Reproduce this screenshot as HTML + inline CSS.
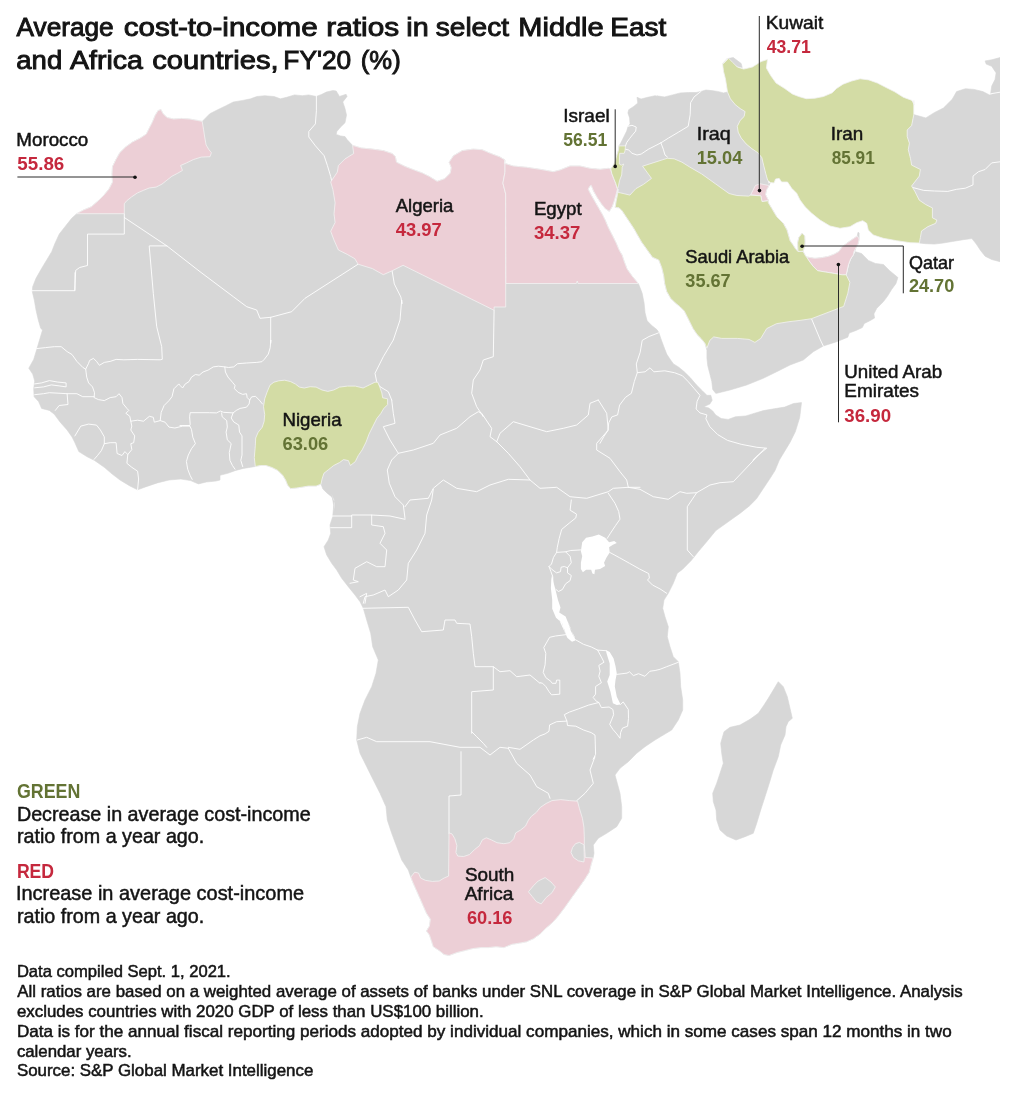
<!DOCTYPE html>
<html><head><meta charset="utf-8"><title>Average cost-to-income ratios</title>
<style>
html,body{margin:0;padding:0;background:#fff;}
body{width:1020px;height:1094px;overflow:hidden;font-family:"Liberation Sans",sans-serif;}
svg{display:block;position:absolute;left:0;top:0;will-change:transform;}
svg text{font-family:"Liberation Sans",sans-serif;}
</style></head><body>
<svg width="1020" height="1094" viewBox="0 0 1020 1094">
<defs><clipPath id="mapclip"><rect x="0" y="50" width="1000" height="930"/></clipPath></defs>
<g clip-path="url(#mapclip)">
<path d="M316.4,96.4 L321.9,94.3 L326.3,92.1 L332.9,90.5 L336.2,91 L339.5,96.4 L346.1,94.3 L347.1,96.4 L342.8,101.9 L345,108.5 L346.5,115.1 L345,122.8 L340.6,127.1 L336.8,131.5 L336.2,134.4 L340.6,135.9 L345,136.6 L347.1,139.6 L352.6,145.4 L361.4,148 L372.4,149.1 L383.3,150.6 L392.1,153.5 L395.4,156.8 L396.5,162.2 L405.3,166.6 L414,169.9 L422.8,173.2 L429.4,176.5 L437.1,181.3 L444.7,178.7 L450.2,173.2 L451.3,167.7 L449.1,162.2 L453.5,155.7 L462.3,150.6 L473.2,149.1 L482,149.7 L490.8,153.5 L499.6,156.8 L505,160 L504.3,163.3 L513.3,166 L526.7,167.3 L540,169.3 L553.3,171.7 L560,170 L570,166 L580,166 L590,168.3 L600,169.3 L608.3,168.3 L610.8,169.1 L611.8,173.5 L613.7,178.4 L615.7,183.3 L617.2,188.2 L617.4,189.2 L616.2,194.1 L614.2,201 L612.3,206.4 L609.3,211.3 L605.4,208.8 L601.5,203.9 L597.5,198 L593.6,191.2 L591.2,185.3 L589.7,186.3 L588.2,189.2 L590.7,194.1 L594.6,201 L598.5,207.8 L602.5,214.7 L605.4,220.6 L608.3,227.5 L612.3,235.3 L616.2,243.1 L619.1,250 L622.2,255.3 L624.1,261.2 L627.1,269 L632,275.9 L638.3,283.5 L639.2,285.5 L642.2,293.3 L644.1,303.1 L645.1,312.9 L647.1,320.8 L652,325.7 L656.9,329.6 L658.8,332.5 L660.8,338.4 L663.7,346.3 L666.7,354.1 L670.6,360 L673.5,363.9 L678.4,366.9 L684.3,371.8 L690.2,377.6 L696.1,384.5 L702,390.4 L706.9,395.3 L710.8,395.3 L712.2,400.2 L709.8,404.1 L703.9,406.7 L708.8,408 L712.7,411 L715.7,414.9 L721.2,418.5 L728.2,419.4 L735.3,416.8 L745.9,415.9 L754.7,413.2 L763.5,410.6 L774.1,408.8 L784.7,407.1 L793.5,403.5 L801.5,402.6 L799.7,417.6 L795.3,431.8 L790,442.4 L784.7,451.2 L779.4,460 L775,470.6 L770.6,477.6 L763.5,488.2 L756.5,498.8 L749.4,505.9 L740.6,512.9 L728.2,521.8 L715.9,530.6 L707.1,541.2 L698.2,551.8 L691.2,560.6 L682.4,569.4 L677.3,573.3 L673.3,583.3 L668.3,593.3 L664,600 L662.7,608.3 L665,616.7 L668.3,626.7 L667.3,636.7 L670,646.7 L673.3,656.7 L678.3,661.7 L680,673.3 L680.7,686.7 L682.7,700 L682.7,710 L678.3,720 L671.7,730 L663.3,735 L655,740 L645,746.7 L636.7,753.3 L628.3,761.7 L620,768.3 L615,775 L617.3,783.3 L620,793.3 L621.7,806.7 L621.7,818.3 L616.7,826.7 L606.7,833.3 L598.3,838.3 L593.3,845 L594,853.3 L593.1,858 L591.2,864.3 L589.2,872.2 L584.3,880 L579.4,886.9 L574.5,893.7 L569.6,900.6 L564.7,907.5 L558.8,915.3 L552.9,922.2 L546.1,928 L540.2,933.9 L533.3,938.8 L526.5,941.8 L519.6,943.1 L511.8,944.3 L503.9,947.6 L496.1,946.7 L488.2,947.6 L480.4,947.6 L472.5,948.6 L464.7,950.6 L456.9,952.5 L449,955.5 L444.1,954.5 L439.2,950.6 L433.3,946.7 L431.4,940.8 L429.4,934.9 L426.5,931 L429.4,926.1 L430.4,919.2 L426.5,913.3 L423.5,906.5 L419.6,897.6 L415.7,888.8 L412.7,882 L410.8,877.1 L408.3,870 L401.7,860 L396.7,846.7 L391.7,833.3 L387.3,820 L386,806.7 L380,793.3 L373.3,780 L366.7,766.7 L360,753.3 L356.7,740 L357.3,726.7 L360,713.3 L365,700 L371.7,686.7 L376,673.3 L378.3,660 L372.7,646.7 L370.7,633.3 L366.7,620 L363.3,608.3 L360,601.7 L355,595 L348.3,586.7 L341.7,578.3 L336.7,570 L331.7,563.3 L326.7,555 L324,546.7 L328.3,540 L330.7,533.3 L330,525 L332.7,516.7 L333.3,510 L334.3,500 L331.7,494.3 L334.7,510.6 L334.7,502.7 L331.8,496.9 L326.9,492.9 L322.9,489 L321,484.1 L316.1,486.1 L308.2,486.1 L302.4,487.1 L296.5,488 L290.6,488.6 L287.6,485.1 L285.7,480.2 L282.7,475.3 L277.8,470.4 L272,467.5 L266.1,465.5 L260.2,465.5 L255.3,466.5 L243.5,468.4 L235.7,470.4 L227.8,473.3 L220,475.3 L220,480 L216.1,481 L206.3,482 L198.4,483.9 L190.6,480.6 L180.8,479 L169,480 L157.3,482.9 L145.5,486.9 L137.6,489.8 L129.8,485.9 L120,480 L112.2,474.1 L104.3,467.3 L94.5,460.4 L86.7,456.5 L78.8,451.6 L74.9,442.7 L72,436.9 L67.1,430 L60.2,422.2 L54.3,414.3 L49.4,410.4 L41.6,408.4 L38.6,401.6 L34.1,396.7 L33.7,388.8 L34.7,381 L32.7,374.1 L28.8,368.2 L33.7,359.4 L36.7,349.6 L39.6,339.8 L42.5,330 L40.7,328.3 L38.3,320 L36,310 L34.3,300 L32.3,291.7 L32.7,286.7 L36,278.3 L41.7,268.3 L46.7,260 L51.7,251.7 L55,243.3 L59.3,234 L65,226.7 L71.7,218.3 L76.7,213.7 L83.5,210 L91.4,206.7 L98.2,200.8 L104.1,194.9 L109,189 L112.5,182.2 L112,174.3 L112.5,166.5 L115.9,159.6 L119.8,152.7 L125.7,146.9 L132.5,142 L140.4,138 L146.3,134.1 L149.2,128.2 L152.2,122.4 L155.1,115.5 L158,110.6 L161,109.6 L162.9,113.5 L166.9,117.5 L173.7,119 L181.6,118.4 L189.4,119 L197.3,120.4 L202.2,121.4 L209.8,113.7 L217.6,109.8 L225.5,105.9 L233.3,102 L242.7,100.4 L250.6,98.8 L256.9,96.5 L264.7,95.7 L274.1,96.5 L280.4,98.8 L286.7,97.3 L294.5,94.9 L302.4,95.7 L308.6,94.9 L316.5,96.5Z" fill="#d7d7d7" stroke="#d7d7d7" stroke-width="0.6" stroke-linejoin="round"/>
<path d="M610.6,169 L612.7,166.5 L614.8,162.4 L616,158.3 L617.2,154.1 L618.5,150 L618.9,145.9 L620.5,143.4 L622.6,139.3 L624.6,135.2 L626.7,131.1 L627.9,127 L630,123.7 L629.6,117.9 L627.9,113 L628.7,109.7 L633.7,106.4 L637.8,103.1 L637,97.3 L641.1,99 L647.7,97.3 L655.1,95.7 L660.8,97.3 L656.9,95.9 L664.7,96.9 L672.5,94.9 L680.4,92.9 L688.2,92.5 L696.1,92.5 L701,91.4 L705.9,90 L711.8,90.6 L717.6,91.4 L723.5,92.9 L727.5,92 L730.4,98.8 L735.3,104.7 L740.2,108.6 L745.1,111.6 L744.1,116.5 L740.2,120.4 L737.3,126.3 L738.2,132.2 L741.2,138 L746.1,143.9 L752,148.8 L757.8,152.7 L761.8,157.6 L763.7,165.5 L765.7,173.3 L767.6,180.2 L768.6,184.1 L770.3,182.6 L769.1,185.5 L766.7,189.7 L765.5,194.5 L768.5,200.4 L768.3,202.7 L771.7,208.3 L776.7,216.7 L783.3,223.3 L787,230 L790,240.6 L792.9,244.7 L795.9,249.4 L798,251.3 L798,251.3 L797.9,247.6 L797.6,242.9 L798.8,237.6 L802.1,233.2 L804.7,235.9 L805,241.8 L804.7,246.5 L803,251.3 L803,251.3 L805.9,256.5 L806.7,257 L814.9,258.3 L821.8,257.6 L828.6,256.3 L834.1,254.2 L838.9,251.5 L842.3,246.7 L847.8,242.5 L854.7,237.7 L857.4,236 L857.2,236 L858,232.3 L859.1,232.9 L859.1,239.1 L858.1,243.9 L856.1,247.4 L854.7,251.5 L861.6,253.5 L868.4,260.4 L875.3,263.4 L883.5,264.5 L889.7,270.7 L897.9,277.5 L895.9,283.7 L891.8,289.2 L887.6,296.1 L883.5,301.6 L876.7,308.4 L873.9,313.9 L874.6,318 L869.8,320.8 L864.3,323.5 L862.3,327.6 L856.1,330.4 L849.2,333.1 L847.8,337.2 L836.7,341.7 L823.3,346 L813.3,351.7 L803.3,360 L790,365 L776.7,371.7 L763.3,378.3 L746.7,385 L730,390 L716.7,393.3 L715.7,393.3 L712.7,389.4 L711.8,381.6 L709.8,373.7 L707.8,365.9 L706.9,358 L706.9,350.2 L704.9,343.3 L701,338.4 L697.1,334.5 L693.1,328.6 L690.2,322.7 L687.3,316.9 L684.3,311 L680.4,307.1 L675.5,303.1 L670.6,298.2 L666.7,291.4 L664.7,283.5 L663.7,275.7 L661.8,267.8 L658.8,260 L652.5,257.3 L647.6,250.4 L641.7,242.2 L637.7,235.3 L633.8,228.4 L629.9,222.5 L626,216.7 L622.1,210.8 L619.1,207.8 L615.2,207.4 L616.2,201 L617.6,194.1 L618.1,189.2 L617.2,188.2 L615.7,183.3 L613.7,178.4 L611.8,173.5 L610.8,169.1Z" fill="#d7d7d7" stroke="#d7d7d7" stroke-width="0.6" stroke-linejoin="round"/>
<path d="M913.8,114.6 L925.8,117.9 L934.6,112.4 L943.4,108 L952.2,99.3 L956.6,91.6 L965.4,88.7 L974.1,89.4 L982.9,91.6 L989.5,94.9 L1000,91.6 L1000,261.7 L991.7,259.5 L985.1,256.2 L980.7,250.7 L976.3,244.1 L971.9,238.6 L963.2,239.7 L952.2,241.5 L943.4,243 L934.6,244.1 L925.8,243.7 L919.3,243 L920.4,237.5 L921.5,231 L928,226.6 L935.7,223.3 L936.8,220 L932.4,217.8 L932.4,207.9 L925.8,204.6 L919.3,200.2 L914.9,191.4 L911.6,186 L919.3,176.1 L920.4,169.5 L911.6,165.1 L910.5,158.5 L908.3,149.7 L909.4,143.2 L907.2,136.6 L907.2,130 L911.6,125.6Z" fill="#d7d7d7" stroke="#d7d7d7" stroke-width="0.6" stroke-linejoin="round"/>
<path d="M985.1,60.9 L991.7,59.8 L1000,57.6 L1000,92.7 L990.6,93.8 L991.7,86.1 L995,79.5 L996.1,72.9 L991.7,66.3 L986.2,64.1Z" fill="#d7d7d7" stroke="#d7d7d7" stroke-width="0.6" stroke-linejoin="round"/>
<path d="M727.5,58.6 L733.3,57.6 L737.3,60.6 L741.2,63.5 L742.2,67.5 L737.3,66.5 L731.4,62.5Z" fill="#d7d7d7" stroke="#d7d7d7" stroke-width="0.6" stroke-linejoin="round"/>
<path d="M778.3,681.7 L783.3,686.7 L787.3,696.7 L790,708.3 L792.3,718.3 L788.3,721.7 L786,726.7 L785,735 L780.7,745 L778.3,756.7 L773.3,770 L769.3,783.3 L765,796.7 L760.7,810 L756.7,823.3 L753.3,833.3 L745,836.7 L736,840 L726.7,836 L720,830 L716.7,820 L716,810 L713.3,801.7 L712.7,793.3 L716.7,783.3 L720,773.3 L723.3,763.3 L721.7,753.3 L720.7,743.3 L724,731.7 L730,727.3 L740,725 L750,719.3 L758.3,713.3 L764,705 L768.3,698.3 L773.3,690 L777.3,683.3Z" fill="#d7d7d7" stroke="#d7d7d7" stroke-width="0.6" stroke-linejoin="round"/>
<g id="borders">
<path d="M124.3,213.7 L124.3,234.1 L87.5,234.1 L87.5,265.5 L79.6,267.5 L75.7,270.4 L74.7,290" fill="none" stroke="#fff" stroke-width="0.9" stroke-linejoin="round" stroke-linecap="round"/>
<path d="M75,272.7 L75,290.7 L32.3,290.7" fill="none" stroke="#fff" stroke-width="0.9" stroke-linejoin="round" stroke-linecap="round"/>
<path d="M124.3,217.5 L166.9,245.9 L200,271.7 L233.3,296.7 L246.7,306.7 L256.7,310 L260,318.3 L270.7,317.3 L291.7,311.7 L305,298.3 L358.1,264.2" fill="none" stroke="#fff" stroke-width="0.9" stroke-linejoin="round" stroke-linecap="round"/>
<path d="M316.4,96.4 L316.4,110.7 L315.4,123.9 L308.8,131.5 L308.8,137 L315.4,145.8 L324.1,155.7 L327.4,165.5 L330.7,176.5 L331.8,181.3" fill="none" stroke="#fff" stroke-width="0.9" stroke-linejoin="round" stroke-linecap="round"/>
<path d="M391.7,400 L393.3,413.3 L395,423.3 L383.3,426.7 L390,440 L398.3,453.3 L391.7,460 L387.3,470 L389.3,483.3 L395,496.7 L403.3,505 L405,518.3" fill="none" stroke="#fff" stroke-width="0.9" stroke-linejoin="round" stroke-linecap="round"/>
<path d="M405,519.3 L390,516 L371.7,515 L351.7,515 L351.7,527.7 L330.7,527.7" fill="none" stroke="#fff" stroke-width="0.9" stroke-linejoin="round" stroke-linecap="round"/>
<path d="M331.7,516 L351.7,516" fill="none" stroke="#fff" stroke-width="0.9" stroke-linejoin="round" stroke-linecap="round"/>
<path d="M398.3,453.3 L413.3,450 L433.3,443.3 L440,435 L456.7,428.3 L470,416.7 L478.3,411.7 L481.7,413.3 L491.7,428.3 L490,436.7 L496.7,441.7" fill="none" stroke="#fff" stroke-width="0.9" stroke-linejoin="round" stroke-linecap="round"/>
<path d="M405,506.7 L410,500 L428.3,498.3 L433.3,488.3 L443.3,480 L456.7,488.3 L476.7,491.7 L490,485 L508.3,479.3 L530,480 L520,466.7 L508.3,453.3 L496.7,441.7" fill="none" stroke="#fff" stroke-width="0.9" stroke-linejoin="round" stroke-linecap="round"/>
<path d="M530,480 L540,488.3 L556.7,487.3 L570,496.7 L586.7,498.3 L608.3,491.7 L613.3,488.3 L628.3,487.3 L640,487.3" fill="none" stroke="#fff" stroke-width="0.9" stroke-linejoin="round" stroke-linecap="round"/>
<path d="M496.7,441.7 L500,433.3 L513.3,421.7 L530,426.7 L546.7,431.7 L563.3,428.3 L576.7,425 L588.3,415 L590,403.3 L598.3,400" fill="none" stroke="#fff" stroke-width="0.9" stroke-linejoin="round" stroke-linecap="round"/>
<path d="M598.3,400 L606.7,413.3 L608.3,430 L596.7,443.3 L596.7,450 L610,458.3 L620,471.7 L626.7,480 L628.3,487.3" fill="none" stroke="#fff" stroke-width="0.9" stroke-linejoin="round" stroke-linecap="round"/>
<path d="M433.3,489.3 L431.7,500 L426.7,515 L425,533.3 L416.7,550 L408.3,563.3 L406.7,580 L398.3,590 L388.3,596.7 L385,590 L373.3,595 L365,596.7 L363.3,603.3" fill="none" stroke="#fff" stroke-width="0.9" stroke-linejoin="round" stroke-linecap="round"/>
<path d="M371.7,515 L371.7,525 L383.3,526.7 L385,533.3 L380,543.3 L386.7,550 L385,566.7 L376.7,566.7 L366.7,561.7 L355,568.3 L353.3,580 L358.3,581.7 L350,583.3" fill="none" stroke="#fff" stroke-width="0.9" stroke-linejoin="round" stroke-linecap="round"/>
<path d="M360,596.7 L366.7,593.3 L365,603.3" fill="none" stroke="#fff" stroke-width="0.9" stroke-linejoin="round" stroke-linecap="round"/>
<path d="M363.3,608.3 L408.3,607.3 L415,620 L421.7,631.7 L443.3,630 L445,620 L455,620 L456.7,623.3 L470,624 L471.7,636.7 L473.3,653.3 L475,666.7 L493.3,666.7 L493.3,690 L471.7,691.7 L471.7,733.3" fill="none" stroke="#fff" stroke-width="0.9" stroke-linejoin="round" stroke-linecap="round"/>
<path d="M628.3,487.3 L640,489.3 L653.3,496.7 L668.3,499.3 L680,491.7 L686.7,493.3 L696.7,492.7 L710,485 L720,482.7 L733.3,481.7 L765,448.3" fill="none" stroke="#fff" stroke-width="0.9" stroke-linejoin="round" stroke-linecap="round"/>
<path d="M696.7,492.7 L687.3,506.7 L687.3,550 L693.3,556.7" fill="none" stroke="#fff" stroke-width="0.9" stroke-linejoin="round" stroke-linecap="round"/>
<path d="M357.3,740 L366.7,737.3 L376.7,741.7 L430,741.7 L460,747.3 L480,747.3 L490,755 L500,747.3 L508.3,748.3" fill="none" stroke="#fff" stroke-width="0.9" stroke-linejoin="round" stroke-linecap="round"/>
<path d="M471.7,731.7 L476.7,736.7 L483.3,743.3 L486.7,747.3" fill="none" stroke="#fff" stroke-width="0.9" stroke-linejoin="round" stroke-linecap="round"/>
<path d="M461,751.7 L461,795 L449,796 L449,833.3" fill="none" stroke="#fff" stroke-width="0.9" stroke-linejoin="round" stroke-linecap="round"/>
<path d="M508.3,748.3 L516.7,763.3 L530,775 L536.7,786.7 L548.3,793.3 L550,798.3" fill="none" stroke="#fff" stroke-width="0.9" stroke-linejoin="round" stroke-linecap="round"/>
<path d="M392.1,270.8 L394.3,283.9 L400.9,297.1 L402,303.7 L401.7,300 L400,320 L393.3,340 L383.3,356.7 L375,373.3 L376.7,381.7 L380,386.7 L388.3,391.7 L391.7,400" fill="none" stroke="#fff" stroke-width="0.9" stroke-linejoin="round" stroke-linecap="round"/>
<path d="M494.1,310.3 L493.3,356.7 L483.3,360 L480,370 L473.3,380 L471.7,393.3 L476.7,406.7 L483.3,416.7" fill="none" stroke="#fff" stroke-width="0.9" stroke-linejoin="round" stroke-linecap="round"/>
<path d="M658.4,332.9 L649,336.5 L642.2,340.4 L640.2,352.2 L636.3,363.9 L637.3,372.7 L645.1,371.8 L650,367.8 L653.9,371.8 L664.7,370.8 L674.5,372.7 L682.4,375.7 L688.2,381.6 L694.1,388.4 L700,395.3 L697.1,401.2 L696.1,409 L700,412.9 L706.9,414.9 L705.9,418.8 L709.8,426.7 L717.6,434.5 L727.5,440.4 L741.2,444.3 L756.9,447.3 L766.7,448.2 L756.9,456.1 L752.9,460" fill="none" stroke="#fff" stroke-width="0.9" stroke-linejoin="round" stroke-linecap="round"/>
<path d="M637.3,372.7 L634.3,381.6 L631.4,393.3 L625.5,397.3 L619.6,405.1 L617.6,414.9 L611.8,416.9 L608.8,422.7 L607.8,430.6 L603.9,436.5 L600,443.3" fill="none" stroke="#fff" stroke-width="0.9" stroke-linejoin="round" stroke-linecap="round"/>
<path d="M701,91.4 L694.1,96.9 L690.6,102.7 L690.2,114.5 L688.2,126.3 L678.4,132.2 L668.6,138 L660.8,142.9 L648.5,149.2 L641.1,154.1 L637,155 L632,153.3 L628.7,150 L625.5,149.2" fill="none" stroke="#fff" stroke-width="0.9" stroke-linejoin="round" stroke-linecap="round"/>
<path d="M660.8,142.6 L663.3,149.2 L665,155 L667.4,157" fill="none" stroke="#fff" stroke-width="0.9" stroke-linejoin="round" stroke-linecap="round"/>
<path d="M628.3,126.2 L632,125.3 L636.2,127 L635.7,131.1 L632.9,134.4 L629.6,138.5 L626.7,142.6 L625.5,145.9" fill="none" stroke="#fff" stroke-width="0.9" stroke-linejoin="round" stroke-linecap="round"/>
<path d="M811.5,318.7 L820.4,340 L823.3,346" fill="none" stroke="#fff" stroke-width="0.9" stroke-linejoin="round" stroke-linecap="round"/>
<path d="M846.2,274.8 L848.5,264.5 L850.6,259 L853.3,254.9 L854.7,251.5" fill="none" stroke="#fff" stroke-width="0.9" stroke-linejoin="round" stroke-linecap="round"/>
<path d="M1000,161.8 L991.7,162.9 L985.1,169.5 L978.5,171.7 L973,176.1 L973,184.9 L965.4,188.2 L956.6,189.3 L947.8,191.4 L934.6,191 L923.7,190.4 L912.7,187.5" fill="none" stroke="#fff" stroke-width="0.9" stroke-linejoin="round" stroke-linecap="round"/>
<path d="M990.6,93.8 L1000,92.2" fill="none" stroke="#fff" stroke-width="0.9" stroke-linejoin="round" stroke-linecap="round"/>
<path d="M493.3,666.7 L500,671.7 L510,670.7 L516.7,676.7 L530,675 L540,683.3 L540,682.7 L542.6,683.3 L545.8,686.5 L549,691.6 L551.5,694.8 L559.8,694.2 L559.8,680.1 L556.6,680.1 L556,683.3 L552.2,683.3 L550.9,681.4 L545.8,677.6 L543.2,672.4 L545.1,664.8 L545.8,653.3 L543.8,647.5 L549.6,637.3 L555.4,636 L565.6,634.7" fill="none" stroke="#fff" stroke-width="0.9" stroke-linejoin="round" stroke-linecap="round"/>
<path d="M574.5,639.2 L583.5,644.3 L591.2,646.9 L597.6,650.1 L605.9,650.7" fill="none" stroke="#fff" stroke-width="0.9" stroke-linejoin="round" stroke-linecap="round"/>
<path d="M597.6,650.1 L601.4,657.1 L604,662.2 L598.8,665.4 L600.1,671.2 L598.8,676.3 L601.4,682.7 L595.6,686.5 L595.6,694.2 L593.1,697.4 L596.3,701.2 L598.8,702.5 L601.4,707.6 L609.1,707 L612.9,709.5 L613.6,714.7 L611.6,719.8 L609.7,724.3 L612.9,729.4 L616.8,733.9 L620,738.3 L620.6,732.6 L622.5,728.1 L627.6,726.2 L628.5,718.5 L628.3,709.5 L623.2,701.9 L620.6,704.4" fill="none" stroke="#fff" stroke-width="0.9" stroke-linejoin="round" stroke-linecap="round"/>
<path d="M508.3,747.3 L520,749.3 L533.3,740 L540,735.8 L545.1,733.9 L549,731.3 L549.6,724.9 L556.6,721.7 L566.9,721.1 L564.3,714.7 L569.4,712.1 L578.4,708.9 L588.6,705.1 L598.8,702.5" fill="none" stroke="#fff" stroke-width="0.9" stroke-linejoin="round" stroke-linecap="round"/>
<path d="M566.9,721.1 L567.5,725.5 L575.8,726.2 L583.5,730 L591.2,732.6 L595,735.1 L595.6,754.3 L593.1,759.4 L595,756.7 L590,770 L593.3,783.3 L585,793.3 L576.7,800.7" fill="none" stroke="#fff" stroke-width="0.9" stroke-linejoin="round" stroke-linecap="round"/>
<path d="M616.8,674.4 L627,673.1 L629.5,671.8 L633.4,675.6 L638.5,673.7 L644.9,676.3 L650,671.2 L655.1,670.5 L660,669.3 L666.7,666.7 L678.3,662.3" fill="none" stroke="#fff" stroke-width="0.9" stroke-linejoin="round" stroke-linecap="round"/>
<path d="M571.3,500 L570.1,510.2 L576.5,514.1 L575.8,517.9 L569.4,523 L561.7,529.4 L559.2,538.4 L557.3,547.3 L556.6,552.4 L553.4,557.6 L551.5,564 L549,566.5 L550.9,571.6 L552.8,576.8 L552.8,584.4" fill="none" stroke="#fff" stroke-width="0.9" stroke-linejoin="round" stroke-linecap="round"/>
<path d="M608.3,493.3 L615,503.3 L618.7,511.5 L620,519.2 L615.5,525.6 L610.4,533.3 L607.2,538.4" fill="none" stroke="#fff" stroke-width="0.9" stroke-linejoin="round" stroke-linecap="round"/>
<path d="M556.6,552.4 L565.6,551.8 L570.7,550.5 L580.9,549.9" fill="none" stroke="#fff" stroke-width="0.9" stroke-linejoin="round" stroke-linecap="round"/>
<path d="M565.6,551.8 L570.1,556.3 L571.3,562.7 L567.5,567.8 L567.5,572.9 L571.3,575.5 L570.1,580.6 L565.6,583.8 L562.4,589.5 L558.5,591.5 L556,589.5" fill="none" stroke="#fff" stroke-width="0.9" stroke-linejoin="round" stroke-linecap="round"/>
<path d="M549,566.5 L552.2,569.7 L556.6,572.9 L560.5,571.6 L561.1,567.2 L564.3,566.5 L567.5,567.8" fill="none" stroke="#fff" stroke-width="0.9" stroke-linejoin="round" stroke-linecap="round"/>
<path d="M609.7,552.4 L619.3,557.6 L629.5,563.3 L639.8,569.1 L648.7,573.6 L649.4,578 L647.5,580 L652.6,585.1 L660,588.9 L666.7,593.3" fill="none" stroke="#fff" stroke-width="0.9" stroke-linejoin="round" stroke-linecap="round"/>
<path d="M166.9,245.9 L149.2,245.9 L153.3,293.3 L156.7,326.7 L161.7,346.7 L162.3,359.3 L160.2,359.8 L137.6,359.4 L123.9,359.8 L116.1,359.4 L110.2,361.4 L104.3,362.4 L99.4,365.3 L96.5,361.4 L93.5,358.4 L89.6,360.4 L88.6,363.3 L85.7,369.2 L82.7,367.3 L76.9,361.4 L72,354.5 L67.1,351.6 L61.2,346.7 L54.3,346.7 L45.5,347.6 L36.7,348.6" fill="none" stroke="#fff" stroke-width="0.9" stroke-linejoin="round" stroke-linecap="round"/>
<path d="M85.7,369.2 L86.7,377.1 L88.6,382.9 L92.5,386.9 L94.5,392.7 L94.1,397.6 L98.4,399.6 L104.3,400.6 L110.2,397.6 L116.1,396.7 L119,393.7 L122,397.6 L122.9,403.5 L126.9,408.4 L128.8,410.4 L125.9,413.3 L129.8,416.3 L130.8,421.2 L137.6,420.2 L143.5,421.2 L149.4,416.3 L153.3,417.3 L154.3,422.2 L160.2,420.6 L165.1,422.2 L169,427.1 L174.9,428 L182.7,426.1 L189.6,426.1" fill="none" stroke="#fff" stroke-width="0.9" stroke-linejoin="round" stroke-linecap="round"/>
<path d="M34.7,383.9 L41.6,382.9 L49.4,380.6 L57.3,382 L66.1,382.9 L66.1,386.9 L59.2,385.9 L51.4,384.9 L43.5,386.9 L34.7,387.8" fill="none" stroke="#fff" stroke-width="0.9" stroke-linejoin="round" stroke-linecap="round"/>
<path d="M34.7,394.7 L43.5,393.7 L49.4,392.7 L67.1,393.7 L76.9,393.7 L82.7,396.7 L94.1,396.7" fill="none" stroke="#fff" stroke-width="0.9" stroke-linejoin="round" stroke-linecap="round"/>
<path d="M67.1,393.7 L68,404.5 L59.2,405.5 L55.3,410.4" fill="none" stroke="#fff" stroke-width="0.9" stroke-linejoin="round" stroke-linecap="round"/>
<path d="M160.2,420.6 L161.2,412.4 L164.1,405.5 L169,400.6 L172,396.7 L173.9,388.8 L178.8,383.9 L180,385.4 L182.6,388 L185.1,384.1 L189,381.6 L191.5,377.1 L195.4,374.5 L199.2,375.2 L203,372 L208.1,370.1 L213.3,366.9 L218.4,366.2 L224.8,366.9" fill="none" stroke="#fff" stroke-width="0.9" stroke-linejoin="round" stroke-linecap="round"/>
<path d="M74.9,435.9 L80.8,426.1 L88.6,424.1 L96.5,425.1 L100.4,430 L104.3,436.9 L104.3,443.7 L101.4,450.6 L97.5,455.5 L94.1,459.4" fill="none" stroke="#fff" stroke-width="0.9" stroke-linejoin="round" stroke-linecap="round"/>
<path d="M104.3,443.7 L110.2,442.7 L116.1,442.7 L117.1,453.5 L122,455.5 L124.9,451.6 L127.8,454.5 L126.9,463.3 L131.8,467.3 L137.6,471.2 L138.6,479 L137.6,489.8" fill="none" stroke="#fff" stroke-width="0.9" stroke-linejoin="round" stroke-linecap="round"/>
<path d="M130.8,421.2 L131.8,426.1 L130.8,430 L134.7,435.9 L133.7,442.7 L130.8,443.7 L131.8,449.6 L127.8,454.5" fill="none" stroke="#fff" stroke-width="0.9" stroke-linejoin="round" stroke-linecap="round"/>
<path d="M270.7,317.3 L270.7,343.3 L270.8,340 L270.2,347.7 L268.3,354.1 L264.4,359.2 L261.9,361.7 L256.8,362.4 L246.5,363 L237.6,363.7 L233.7,366.9 L228.6,367.5 L224.8,366.9 L225.4,372 L228,377.1 L232.4,382.2 L235,385.4 L234.4,388.6 L238.2,392.4 L242.7,394.4 L246.5,393.7 L247.2,397.6 L249.7,400.1 L251.6,396.9 L255.5,396.3 L259.3,400.1 L262.5,404" fill="none" stroke="#fff" stroke-width="0.9" stroke-linejoin="round" stroke-linecap="round"/>
<path d="M249.7,400.1 L249.1,404 L246.5,407.2 L240.1,408.4 L236.3,410.4 L233.1,412.9 L223.5,412.3 L220.3,411 L216.5,412.9 L209.4,412.7 L190.2,412.7 L189.6,416.8 L190.2,424.4 L189.6,425.5 L180,425.5" fill="none" stroke="#fff" stroke-width="0.9" stroke-linejoin="round" stroke-linecap="round"/>
<path d="M189.6,425.5 L191.5,429.5 L192.8,437.2 L195.4,443.6 L191.5,448.7 L188.3,455.1 L186.4,461.5 L187.7,469.2 L190.2,475.6 L192.2,479.4" fill="none" stroke="#fff" stroke-width="0.9" stroke-linejoin="round" stroke-linecap="round"/>
<path d="M221.6,412.9 L222.2,416.8 L226.7,420.6 L227.3,427 L226.1,432.1 L227.3,439.8 L231.2,443.6 L229.3,452.6 L229.9,460.3 L232.4,465.4 L235,469.2" fill="none" stroke="#fff" stroke-width="0.9" stroke-linejoin="round" stroke-linecap="round"/>
<path d="M233.1,412.9 L231.2,418 L233.7,421.9 L238.8,425.1 L239.5,432.1 L242,435.9 L242,455.1 L240.8,460.3 L242.7,466.6" fill="none" stroke="#fff" stroke-width="0.9" stroke-linejoin="round" stroke-linecap="round"/>
</g>
<path d="M76.7,213.7 L83.5,210 L91.4,206.7 L98.2,200.8 L104.1,194.9 L109,189 L112.5,182.2 L112,174.3 L112.5,166.5 L115.9,159.6 L119.8,152.7 L125.7,146.9 L132.5,142 L140.4,138 L146.3,134.1 L149.2,128.2 L152.2,122.4 L155.1,115.5 L158,110.6 L161,109.6 L162.9,113.5 L166.9,117.5 L173.7,119 L181.6,118.4 L189.4,119 L197.3,120.4 L202.2,121.4 L203.5,129.2 L204.7,137.1 L206.1,144.9 L209,149.8 L211.4,152.7 L210,156.7 L201.2,157.1 L193.3,159.6 L186.5,162.9 L180.6,165.5 L182.5,170.4 L177.6,173.3 L171.8,176.3 L166.9,180.2 L162,184.1 L156.1,187.1 L149.2,188 L143.3,190.4 L137.5,192.9 L131.6,196.9 L126.7,200.8 L124.3,203.7 L124.3,213.7Z" fill="#eccfd6" stroke="#f3f3f3" stroke-width="0.8" stroke-linejoin="round"/>
<path d="M352.6,145.4 L361.4,148 L372.4,149.1 L383.3,150.6 L392.1,153.5 L395.4,156.8 L396.5,162.2 L405.3,166.6 L414,169.9 L422.8,173.2 L429.4,176.5 L437.1,181.3 L444.7,178.7 L450.2,173.2 L451.3,167.7 L449.1,162.2 L453.5,155.7 L462.3,150.6 L473.2,149.1 L482,149.7 L490.8,153.5 L499.6,156.8 L505,160 L505,172.1 L502.9,183.1 L505.7,194 L505.7,307 L494.1,307 L494.1,310.3 L403.1,265.3 L392.1,270.8 L383.3,274.7 L372.4,268.6 L358.1,264.2 L354.8,258.7 L347.1,254.3 L338.4,250 L334,240.1 L330.7,231.3 L335.1,222.5 L334,213.8 L335.1,202.8 L332.9,189.6 L330.7,182 L337.3,172.1 L338.4,165.5 L345,158.9 L353.7,153.5Z" fill="#eccfd6" stroke="#f3f3f3" stroke-width="0.8" stroke-linejoin="round"/>
<path d="M504.3,163.3 L513.3,166 L526.7,167.3 L540,169.3 L553.3,171.7 L560,170 L570,166 L580,166 L590,168.3 L600,169.3 L608.3,168.3 L610.8,169.1 L611.8,173.5 L613.7,178.4 L615.7,183.3 L617.2,188.2 L617.4,189.2 L616.2,194.1 L614.2,201 L612.3,206.4 L609.3,211.3 L605.4,208.8 L601.5,203.9 L597.5,198 L593.6,191.2 L591.2,185.3 L589.7,186.3 L588.2,189.2 L590.7,194.1 L594.6,201 L598.5,207.8 L602.5,214.7 L605.4,220.6 L608.3,227.5 L612.3,235.3 L616.2,243.1 L619.1,250 L622.2,255.3 L624.1,261.2 L627.1,269 L632,275.9 L638.3,283.5 L578,283.5 L577.3,281 L576.3,283.5 L505.9,283.5 L505.7,194 L502.9,183.1 L505,172.1 L505,160Z" fill="#eccfd6" stroke="#f3f3f3" stroke-width="0.8" stroke-linejoin="round"/>
<path d="M410.8,877.1 L414.7,872.2 L418.6,873.1 L420.6,878 L425.5,880.4 L432.4,881.4 L439.2,881 L444.1,878 L448.6,876.1 L449,832.9 L452,833.9 L454.9,838.8 L456.9,845.7 L455.9,852.5 L457.8,856.1 L463.7,856.5 L469.6,854.5 L474.5,849.6 L479.4,845.7 L482.4,839.8 L486.3,837.8 L491.2,839.8 L497.1,842.7 L503.9,843.7 L509.8,842.7 L513.7,838.8 L515.7,832.9 L520.6,830 L525.5,826.1 L528.4,820.2 L531.4,816.3 L536.3,812.4 L540.2,807.5 L546.1,803.5 L552,800.6 L560.8,799.6 L569.6,800.6 L577.5,801.2 L579.4,808.4 L582.4,818.2 L583.9,827.1 L584.3,836.9 L584.3,844.7 L585.3,857.5 L593.1,858 L591.2,864.3 L589.2,872.2 L584.3,880 L579.4,886.9 L574.5,893.7 L569.6,900.6 L564.7,907.5 L558.8,915.3 L552.9,922.2 L546.1,928 L540.2,933.9 L533.3,938.8 L526.5,941.8 L519.6,943.1 L511.8,944.3 L503.9,947.6 L496.1,946.7 L488.2,947.6 L480.4,947.6 L472.5,948.6 L464.7,950.6 L456.9,952.5 L449,955.5 L444.1,954.5 L439.2,950.6 L433.3,946.7 L431.4,940.8 L429.4,934.9 L426.5,931 L429.4,926.1 L430.4,919.2 L426.5,913.3 L423.5,906.5 L419.6,897.6 L415.7,888.8 L412.7,882Z" fill="#eccfd6" stroke="#f3f3f3" stroke-width="0.8" stroke-linejoin="round"/>
<path d="M750.7,194.8 L755.4,185.5 L760.2,183.8 L769.1,185.5 L766.7,189.7 L765.5,194.5 L768.5,200.4 L762,201.6 L760.8,195.8Z" fill="#eccfd6" stroke="#f3f3f3" stroke-width="0.8" stroke-linejoin="round"/>
<path d="M806.7,257 L814.9,258.3 L821.8,257.6 L828.6,256.3 L834.1,254.2 L838.9,251.5 L842.3,246.7 L847.8,242.5 L854.7,237.7 L857.4,236 L859.1,239.1 L858.1,243.9 L856.1,247.4 L854,251.5 L853.3,254.9 L850.6,259 L848.5,264.5 L847.2,270 L846.2,274.8 L842.3,274.8 L834.1,273.4 L825.9,272.1 L817.6,270.7 L812.8,265.9 L808.7,260.4Z" fill="#eccfd6" stroke="#f3f3f3" stroke-width="0.8" stroke-linejoin="round"/>
<path d="M270,385.1 L273.9,382.2 L278.8,380.8 L284.7,380.2 L290.6,381.6 L295.5,384.1 L299.4,387.1 L304.3,388 L310.2,386.7 L316.1,387.1 L322,390 L327.8,391.4 L333.7,390 L339.6,387.1 L347.5,386.1 L355.3,386.1 L363.1,388 L369,385.1 L374.9,382.2 L377.8,382.2 L379.8,387.1 L381.8,392.9 L382.7,397.8 L387.6,398.8 L387.6,404.7 L383.7,408.6 L380.8,413.5 L376.9,418.4 L372.9,426.3 L369,434.1 L366.1,442 L362.2,449.8 L358.2,455.7 L355.3,461.6 L350.4,465.5 L348.4,460.6 L343.5,459.6 L339.6,462.5 L333.7,465.5 L328.8,469.4 L323.9,473.3 L322,479.2 L321,484.1 L316.1,486.1 L308.2,486.1 L302.4,487.1 L296.5,488 L290.6,488.6 L287.6,485.1 L285.7,480.2 L282.7,475.3 L277.8,470.4 L272,467.5 L266.1,465.5 L260.2,465.5 L255.3,466.5 L254.3,457.6 L255.3,445.9 L255.7,438 L258.2,432.2 L262.2,427.3 L264.1,421.4 L264.7,414.5 L263.5,406.7 L264.7,398.8 L267.1,392Z" fill="#d3dca5" stroke="#f3f3f3" stroke-width="0.8" stroke-linejoin="round"/>
<path d="M618.1,189.2 L617.6,192.2 L629.9,195.1 L635.8,188.7 L643.6,184.3 L651.5,178.4 L642.6,166.2 L667.2,158.3 L674.1,158.8 L682,162.2 L689.8,167.1 L701.6,173.9 L715.3,183.7 L729,193.5 L736.9,195.5 L748.6,196.1 L750.7,195.2 L760.8,195.8 L762,201.6 L768.5,200.8 L768.3,202.7 L771.7,208.3 L776.7,216.7 L783.3,223.3 L787,230 L790,240.6 L792.9,244.7 L795.9,249.4 L798,251.3 L803,251.3 L805.9,256.5 L806.7,257 L808.7,260.4 L812.8,265.9 L817.6,270.7 L825.9,272.1 L834.1,273.4 L842.3,274.8 L846.2,274.8 L849.9,282.3 L847.8,293.3 L843.7,306.4 L811.5,318.7 L800,320.4 L788.2,321.8 L776.5,323.7 L766.7,328.6 L760.8,338.4 L754.9,342.4 L749,339.4 L737.3,338.4 L721.6,338.4 L713.7,336.9 L709.8,340.4 L706.9,348.2 L704.9,343.3 L701,338.4 L697.1,334.5 L693.1,328.6 L690.2,322.7 L687.3,316.9 L684.3,311 L680.4,307.1 L675.5,303.1 L670.6,298.2 L666.7,291.4 L664.7,283.5 L663.7,275.7 L661.8,267.8 L658.8,260 L652.5,257.3 L647.6,250.4 L641.7,242.2 L637.7,235.3 L633.8,228.4 L629.9,222.5 L626,216.7 L622.1,210.8 L619.1,207.8 L615.2,207.4 L616.2,201 L617.6,194.1 L618.1,189.2Z" fill="#d3dca5" stroke="#f3f3f3" stroke-width="0.8" stroke-linejoin="round"/>
<path d="M723.2,63.7 L728.6,58.3 L732.9,62.6 L737.3,67 L743.7,69.1 L752.4,67 L761,61.6 L767.5,59.4 L766.4,68 L770.7,75.6 L776.1,83.1 L784.7,88.5 L792.3,93.9 L798.7,96.5 L806.3,98.7 L814.9,98.2 L823.5,96.5 L832.2,92.8 L836.5,88.5 L843,84.2 L851.6,81 L860.2,78.8 L868.8,79.9 L877.5,83.1 L886.1,87.5 L894.7,91.8 L903.3,97.2 L912,100.4 L914.1,104.7 L913.8,100.4 L913.8,114.6 L911.6,125.6 L907.2,130 L907.2,136.6 L909.4,143.2 L908.3,149.7 L910.5,158.5 L911.6,165.1 L920.4,169.5 L919.3,176.1 L911.6,186 L914.9,191.4 L919.3,200.2 L925.8,204.6 L932.4,207.9 L932.4,217.8 L936.8,220 L935.7,223.3 L928,226.6 L921.5,231 L920.4,237.5 L919.3,243 L910,242.7 L896.7,240.7 L883.3,238.3 L873.3,235 L868.3,230 L866.7,223.3 L862.7,220.7 L856.7,222.7 L850,226.7 L840,228.3 L830,226 L820,220 L811.7,213.3 L805,206.7 L800,200 L796.7,193.3 L791.7,188.3 L787.5,182 L781.6,182 L779.2,178.4 L775.6,179 L774,183 L770.3,182.6 L767.6,180.2 L765.7,173.3 L763.7,165.5 L761.8,157.6 L757.8,152.7 L752,148.8 L746.1,143.9 L741.2,138 L738.2,132.2 L737.3,126.3 L740.2,120.4 L744.1,116.5 L745.1,111.6 L740.2,108.6 L735.3,104.7 L730.4,98.8 L727.5,92 L725.5,79.2 L723.5,71.4 L722.5,63.5 L727.5,58Z" fill="#d3dca5" stroke="#f3f3f3" stroke-width="0.8" stroke-linejoin="round"/>
<path d="M610.6,169 L612.7,166.5 L614.8,162.4 L616,158.3 L617.2,154.1 L618.5,150 L618.9,145.9 L625.5,145.9 L625,150.8 L624.2,153.3 L619.7,153.3 L619.3,164 L621.3,165.2 L623.8,164 L622.2,167.3 L621.7,175 L619.6,180.4 L618.6,185.3 L617.6,188.7 L617.2,188.2 L615.7,183.3 L613.7,178.4 L611.8,173.5 L610.8,169.1Z" fill="#d3dca5" stroke="#f3f3f3" stroke-width="0.8" stroke-linejoin="round"/>
<path d="M798,251.3 L797.9,247.6 L797.6,242.9 L798.8,237.6 L802.1,233.2 L804.7,235.9 L805,241.8 L804.7,246.5 L803,251.3Z" fill="#d3dca5" stroke="#f3f3f3" stroke-width="0.8" stroke-linejoin="round"/>
<path d="M528.4,891.8 L533.3,885.9 L538.2,881 L545.1,877.6 L551,882 L555.3,886.9 L552,892.7 L546.1,897.6 L541.2,903.9 L536.3,901.6 L532.4,896.7Z" fill="#d7d7d7" stroke="#f3f3f3" stroke-width="0.8" stroke-linejoin="round"/>
<path d="M572.5,847.6 L575.5,843.7 L579.4,842.4 L583.9,844.7 L584.3,857.5 L583.9,862 L578.4,860.8 L573.5,857.5 L571,852.5Z" fill="#d7d7d7" stroke="#f3f3f3" stroke-width="0.8" stroke-linejoin="round"/>
<path d="M582.2,542.2 L586.1,537.7 L592.4,536.5 L598.8,534.5 L605.2,537.7 L609.1,542.2 L614.2,540.9 L616.8,542.9 L612.9,544.8 L609.1,547.3 L609.7,552.4 L606.5,557.6 L604,562.7 L605.2,565.9 L600.1,569.1 L595,569.7 L594.4,574.2 L592.4,573.6 L591.2,569.7 L586.1,569.7 L582.9,572.3 L580.9,569.1 L580.9,562.7 L582.2,556.3 L580.9,551.2Z" fill="#fff"/>
<path d="M552.2,574.2 L553.4,581.9 L555.4,589.5 L557.9,599.8 L560.5,607.5 L559.2,612.6 L565.6,616.4 L568.1,622.8 L570.7,630.5 L574.5,638.2 L567.5,620 L570.1,627.7 L574.5,636.6 L575.2,640.5 L572,641.7 L567.5,637.9 L564.3,630.2 L562.4,623.8 L559.2,620 L567.5,638.2 L564.3,629.2 L561.7,622.8 L556,617.7 L552.2,608.7 L552.2,599.8 L550.9,588.3 L551.3,579.3Z" fill="#fff"/>
<path d="M605.9,650.1 L609.7,652 L613.6,658.4 L615.5,666.1 L616.8,673.7 L615.5,680.1 L614.8,686.5 L616.8,696.8 L620.6,704.4 L616.8,705.1 L612.9,703.2 L610.4,691.6 L607.2,681.4 L609.7,675 L609.7,663.5 L606.5,653.3Z" fill="#fff"/>
</g>
<path d="M17.4,177 L135,177" fill="none" stroke="#2a2a2a" stroke-width="1" stroke-linejoin="round" stroke-linecap="butt"/>
<circle cx="135" cy="177.2" r="1.8" fill="#111"/>
<path d="M615.2,109.3 L615.2,166.4" fill="none" stroke="#2a2a2a" stroke-width="1" stroke-linejoin="round" stroke-linecap="butt"/>
<circle cx="615.2" cy="166.4" r="1.8" fill="#111"/>
<path d="M759.3,16 L759.3,190.5" fill="none" stroke="#2a2a2a" stroke-width="1" stroke-linejoin="round" stroke-linecap="butt"/>
<circle cx="759.5" cy="190.6" r="1.8" fill="#111"/>
<path d="M802.1,246 L903.3,246 L903.3,293.3" fill="none" stroke="#2a2a2a" stroke-width="1" stroke-linejoin="round" stroke-linecap="butt"/>
<circle cx="802.1" cy="246.3" r="1.8" fill="#111"/>
<path d="M838.5,264.6 L838.5,422.3" fill="none" stroke="#2a2a2a" stroke-width="1" stroke-linejoin="round" stroke-linecap="butt"/>
<circle cx="838.4" cy="264.6" r="1.8" fill="#111"/>
<g id="labels">
<text x="16.5" y="36.4" font-size="26.5" font-weight="normal" fill="#141414" stroke="#141414" stroke-width="0.95" textLength="97.2" lengthAdjust="spacingAndGlyphs">Average</text>
<text x="123.75" y="36.4" font-size="26.5" font-weight="normal" fill="#141414" stroke="#141414" stroke-width="0.95" textLength="193.95" lengthAdjust="spacingAndGlyphs">cost-to-income</text>
<text x="326.3" y="36.4" font-size="26.5" font-weight="normal" fill="#141414" stroke="#141414" stroke-width="0.95" textLength="72.9" lengthAdjust="spacingAndGlyphs">ratios</text>
<text x="406.3" y="36.4" font-size="26.5" font-weight="normal" fill="#141414" stroke="#141414" stroke-width="0.95" textLength="22.4" lengthAdjust="spacingAndGlyphs">in</text>
<text x="435.8" y="36.4" font-size="26.5" font-weight="normal" fill="#141414" stroke="#141414" stroke-width="0.95" textLength="73.2" lengthAdjust="spacingAndGlyphs">select</text>
<text x="518.3" y="36.4" font-size="26.5" font-weight="normal" fill="#141414" stroke="#141414" stroke-width="0.95" textLength="85.4" lengthAdjust="spacingAndGlyphs">Middle</text>
<text x="610.3" y="36.4" font-size="26.5" font-weight="normal" fill="#141414" stroke="#141414" stroke-width="0.95" textLength="55.95" lengthAdjust="spacingAndGlyphs">East</text>
<text x="16.3" y="68.9" font-size="26.5" font-weight="normal" fill="#141414" stroke="#141414" stroke-width="0.95" textLength="45.9" lengthAdjust="spacingAndGlyphs">and</text>
<text x="70" y="68.9" font-size="26.5" font-weight="normal" fill="#141414" stroke="#141414" stroke-width="0.95" textLength="73" lengthAdjust="spacingAndGlyphs">Africa</text>
<text x="152.3" y="68.9" font-size="26.5" font-weight="normal" fill="#141414" stroke="#141414" stroke-width="0.95" textLength="126.4" lengthAdjust="spacingAndGlyphs">countries,</text>
<text x="283.3" y="68.9" font-size="26.5" font-weight="normal" fill="#141414" stroke="#141414" stroke-width="0.95" textLength="67.95" lengthAdjust="spacingAndGlyphs">FY'20</text>
<text x="360.8" y="68.9" font-size="26.5" font-weight="normal" fill="#141414" stroke="#141414" stroke-width="0.95" textLength="39.9" lengthAdjust="spacingAndGlyphs">(%)</text>
<text x="16.3" y="146.3" font-size="18.6" font-weight="normal" fill="#141414" stroke="#141414" stroke-width="0.5" textLength="72.0" lengthAdjust="spacingAndGlyphs">Morocco</text>
<text x="17.3" y="170" font-size="18.6" font-weight="bold" fill="#c5283d" textLength="47.0" lengthAdjust="spacingAndGlyphs">55.86</text>
<text x="563.3" y="122.3" font-size="18.6" font-weight="normal" fill="#141414" stroke="#141414" stroke-width="0.5" textLength="46.4" lengthAdjust="spacingAndGlyphs">Israel</text>
<text x="563.3" y="145.7" font-size="18.6" font-weight="bold" fill="#637334" textLength="44.0" lengthAdjust="spacingAndGlyphs">56.51</text>
<text x="765.7" y="29.3" font-size="18.6" font-weight="normal" fill="#141414" stroke="#141414" stroke-width="0.5" textLength="57.6" lengthAdjust="spacingAndGlyphs">Kuwait</text>
<text x="766.7" y="52.7" font-size="18.6" font-weight="bold" fill="#c5283d" textLength="44.0" lengthAdjust="spacingAndGlyphs">43.71</text>
<text x="696.7" y="140" font-size="18.6" font-weight="normal" fill="#141414" stroke="#141414" stroke-width="0.5" textLength="34.0" lengthAdjust="spacingAndGlyphs">Iraq</text>
<text x="696.7" y="164" font-size="18.6" font-weight="bold" fill="#637334" textLength="45.6" lengthAdjust="spacingAndGlyphs">15.04</text>
<text x="830.7" y="140" font-size="18.6" font-weight="normal" fill="#141414" stroke="#141414" stroke-width="0.5" textLength="32.4" lengthAdjust="spacingAndGlyphs">Iran</text>
<text x="831.7" y="164" font-size="18.6" font-weight="bold" fill="#637334" textLength="43.0" lengthAdjust="spacingAndGlyphs">85.91</text>
<text x="395.7" y="212.3" font-size="18.6" font-weight="normal" fill="#141414" stroke="#141414" stroke-width="0.5" textLength="57.6" lengthAdjust="spacingAndGlyphs">Algeria</text>
<text x="395.7" y="235.7" font-size="18.6" font-weight="bold" fill="#c5283d" textLength="46.0" lengthAdjust="spacingAndGlyphs">43.97</text>
<text x="533.9" y="215" font-size="18.6" font-weight="normal" fill="#141414" stroke="#141414" stroke-width="0.5" textLength="47.8" lengthAdjust="spacingAndGlyphs">Egypt</text>
<text x="533.9" y="239" font-size="18.6" font-weight="bold" fill="#c5283d" textLength="46.4" lengthAdjust="spacingAndGlyphs">34.37</text>
<text x="685.3" y="262.7" font-size="18.6" font-weight="normal" fill="#141414" stroke="#141414" stroke-width="0.5" textLength="104.0" lengthAdjust="spacingAndGlyphs">Saudi Arabia</text>
<text x="685.3" y="286.7" font-size="18.6" font-weight="bold" fill="#637334" textLength="45.4" lengthAdjust="spacingAndGlyphs">35.67</text>
<text x="908.9" y="269" font-size="18.6" font-weight="normal" fill="#141414" stroke="#141414" stroke-width="0.5" textLength="45.1" lengthAdjust="spacingAndGlyphs">Qatar</text>
<text x="908.9" y="292.3" font-size="18.6" font-weight="bold" fill="#637334" textLength="45.4" lengthAdjust="spacingAndGlyphs">24.70</text>
<text x="844.3" y="377.7" font-size="18.6" font-weight="normal" fill="#141414" stroke="#141414" stroke-width="0.5" textLength="97.8" lengthAdjust="spacingAndGlyphs">United Arab</text>
<text x="844.3" y="397.3" font-size="18.6" font-weight="normal" fill="#141414" stroke="#141414" stroke-width="0.5" textLength="74.7" lengthAdjust="spacingAndGlyphs">Emirates</text>
<text x="844.3" y="421.7" font-size="18.6" font-weight="bold" fill="#c5283d" textLength="46.8" lengthAdjust="spacingAndGlyphs">36.90</text>
<text x="282.5" y="426.3" font-size="18.6" font-weight="normal" fill="#141414" stroke="#141414" stroke-width="0.5" textLength="59.1" lengthAdjust="spacingAndGlyphs">Nigeria</text>
<text x="282.5" y="450.2" font-size="18.6" font-weight="bold" fill="#637334" textLength="45.8" lengthAdjust="spacingAndGlyphs">63.06</text>
<text x="464.9" y="880.6" font-size="18.6" font-weight="normal" fill="#141414" stroke="#141414" stroke-width="0.5" textLength="49.4" lengthAdjust="spacingAndGlyphs">South</text>
<text x="464.7" y="900" font-size="18.6" font-weight="normal" fill="#141414" stroke="#141414" stroke-width="0.5" textLength="48.6" lengthAdjust="spacingAndGlyphs">Africa</text>
<text x="466.9" y="924.1" font-size="18.6" font-weight="bold" fill="#c5283d" textLength="45.6" lengthAdjust="spacingAndGlyphs">60.16</text>
<text x="16.9" y="798.2" font-size="20.2" font-weight="bold" fill="#637334" textLength="63.4" lengthAdjust="spacingAndGlyphs">GREEN</text>
<text x="16.9" y="821" font-size="20.4" font-weight="normal" fill="#141414" stroke="#141414" stroke-width="0.5" textLength="293.8" lengthAdjust="spacingAndGlyphs">Decrease in average cost-income</text>
<text x="16.9" y="843" font-size="20.4" font-weight="normal" fill="#141414" stroke="#141414" stroke-width="0.5" textLength="187.4" lengthAdjust="spacingAndGlyphs">ratio from a year ago.</text>
<text x="16.9" y="877.8" font-size="20.2" font-weight="bold" fill="#c5283d" textLength="37.2" lengthAdjust="spacingAndGlyphs">RED</text>
<text x="15.9" y="900.3" font-size="20.4" font-weight="normal" fill="#141414" stroke="#141414" stroke-width="0.5" textLength="288.2" lengthAdjust="spacingAndGlyphs">Increase in average cost-income</text>
<text x="16.9" y="922.6" font-size="20.4" font-weight="normal" fill="#141414" stroke="#141414" stroke-width="0.5" textLength="187.4" lengthAdjust="spacingAndGlyphs">ratio from a year ago.</text>
<text x="16.9" y="976.8" font-size="16.2" font-weight="normal" fill="#141414" stroke="#141414" stroke-width="0.5" textLength="213.8" lengthAdjust="spacingAndGlyphs">Data compiled Sept. 1, 2021.</text>
<text x="17.3" y="996.8" font-size="16.2" font-weight="normal" fill="#141414" stroke="#141414" stroke-width="0.5" textLength="945.4" lengthAdjust="spacingAndGlyphs">All ratios are based on a weighted average of assets of banks under SNL coverage in S&amp;P Global Market Intelligence. Analysis</text>
<text x="16.9" y="1016.5" font-size="16.2" font-weight="normal" fill="#141414" stroke="#141414" stroke-width="0.5" textLength="466.8" lengthAdjust="spacingAndGlyphs">excludes countries with 2020 GDP of less than US$100 billion.</text>
<text x="16.9" y="1036.8" font-size="16.2" font-weight="normal" fill="#141414" stroke="#141414" stroke-width="0.5" textLength="934.8" lengthAdjust="spacingAndGlyphs">Data is for the annual fiscal reporting periods adopted by individual companies, which in some cases span 12 months in two</text>
<text x="16.9" y="1056.5" font-size="16.2" font-weight="normal" fill="#141414" stroke="#141414" stroke-width="0.5" textLength="114.8" lengthAdjust="spacingAndGlyphs">calendar years.</text>
<text x="16.9" y="1076.2" font-size="16.2" font-weight="normal" fill="#141414" stroke="#141414" stroke-width="0.5" textLength="296.4" lengthAdjust="spacingAndGlyphs">Source: S&amp;P Global Market Intelligence</text>
</g>
</svg>
</body></html>
